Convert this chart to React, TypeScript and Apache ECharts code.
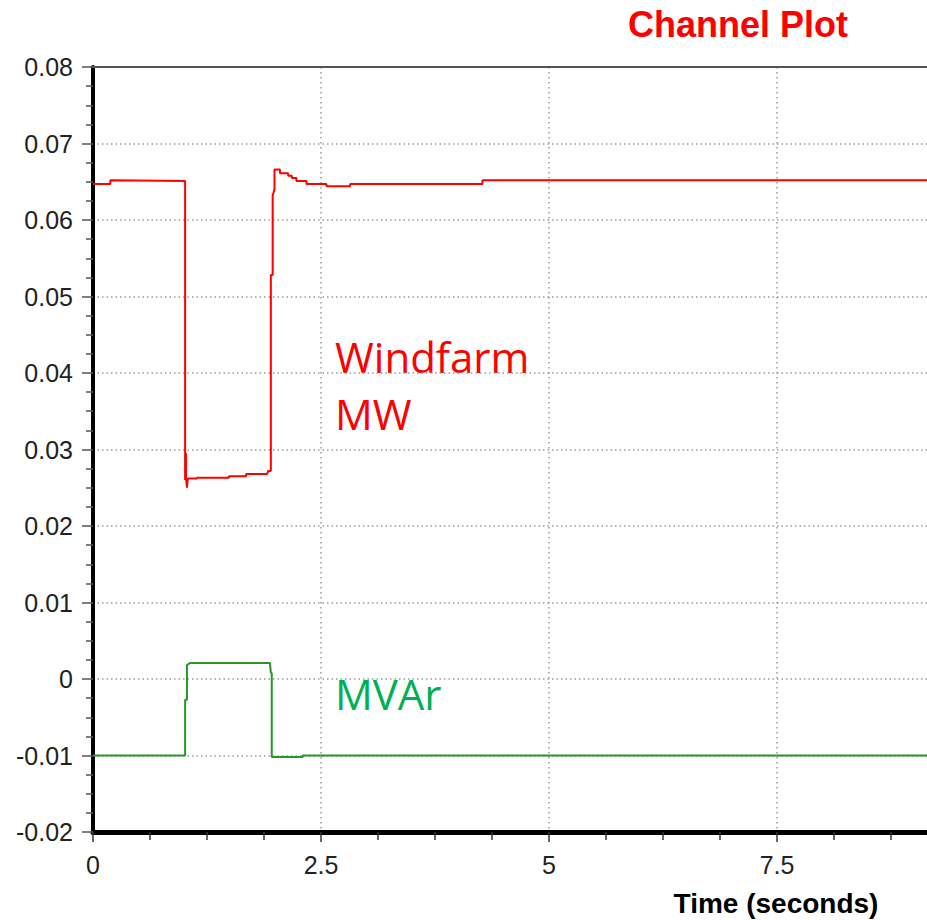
import React, { useEffect, useRef } from "react";
import * as echarts from "echarts";

const titleText = "Channel Plot";
const xAxisTitle = "Time (seconds)";
const yTicks = { min: -0.02, max: 0.08, interval: 0.01 };
const xTicks = { min: 0, max: 10, interval: 2.5 };

const timeMW = [0, 0.19, 0.19, 1.01, 1.01, 1.02, 1.02, 1.03, 1.04, 1.14, 1.14, 1.49, 1.49, 1.68, 1.68, 1.91, 1.92, 1.95, 1.95, 1.97, 1.97, 1.99, 1.99, 2.05, 2.05, 2.14, 2.14, 2.18, 2.18, 2.23, 2.23, 2.34, 2.34, 2.56, 2.56, 2.82, 2.82, 4.27, 4.27, 10];
const windfarmMW = [0.0647, 0.0647, 0.0652, 0.0651, 0.026, 0.0295, 0.0262, 0.025, 0.0262, 0.0262, 0.0263, 0.0263, 0.0265, 0.0265, 0.0268, 0.0268, 0.0272, 0.0272, 0.0528, 0.0528, 0.0632, 0.064, 0.0666, 0.0666, 0.0661, 0.0661, 0.0658, 0.0658, 0.0655, 0.0655, 0.0651, 0.0651, 0.0647, 0.0647, 0.0644, 0.0644, 0.0647, 0.0647, 0.0652, 0.0652];

const timeMVAr = [0, 1.01, 1.01, 1.03, 1.03, 1.06, 1.94, 1.95, 1.96, 1.96, 2.3, 2.3, 10];
const windfarmMVAr = [-0.01, -0.01, -0.0027, -0.0027, 0.0018, 0.0021, 0.0021, 0.0008, 0.0008, -0.0102, -0.0102, -0.01, -0.01];

const labelMW = ["Windfarm", "MW"];
const labelMVAr = "MVAr";

const tickFont = "'Liberation Sans', Arial, sans-serif";

export default function App() {
  const ref = useRef<HTMLDivElement>(null);
  useEffect(() => {
    if (!ref.current) return;
    const chart = echarts.init(ref.current, null, { renderer: "svg" });
    const zip = (xs: number[], ys: number[]) => xs.map((x, i) => [x, ys[i]]);
    chart.setOption({
      animation: false,
      backgroundColor: "#ffffff",
      grid: { left: 93, top: 67, bottom: 88, right: 5 },
      xAxis: [
        {
          type: "value",
          min: xTicks.min,
          max: xTicks.max,
          interval: xTicks.interval,
          axisLine: { show: true, onZero: false, lineStyle: { color: "#000", width: 5 } },
          axisTick: { show: true, inside: false, length: 10, lineStyle: { color: "#333", width: 1.5 } },
          minorTick: { show: true, splitNumber: 4, length: 8, lineStyle: { color: "#333", width: 1.5 } },
          axisLabel: {
            margin: 20,
            color: "#222",
            fontSize: 25,
            fontFamily: tickFont,
            showMaxLabel: false,
            formatter: (v: number) => String(v),
          },
          splitLine: { show: true, lineStyle: { color: "#9a9a9a", width: 1.5, type: [1.5, 3.5] } },
        },
        {
          type: "value",
          position: "top",
          min: xTicks.min,
          max: xTicks.max,
          axisLine: { show: true, onZero: false, lineStyle: { color: "#555", width: 2 } },
          axisTick: { show: false },
          axisLabel: { show: false },
          splitLine: { show: false },
        },
      ],
      yAxis: {
        type: "value",
        min: yTicks.min,
        max: yTicks.max,
        interval: yTicks.interval,
        axisLine: { show: true, onZero: false, lineStyle: { color: "#000", width: 4 } },
        axisTick: { show: true, inside: false, length: 11, lineStyle: { color: "#555", width: 1.5 } },
        minorTick: { show: true, splitNumber: 4, length: 7, lineStyle: { color: "#555", width: 1.5 } },
        axisLabel: {
          margin: 20,
          color: "#222",
          fontSize: 25,
          fontFamily: tickFont,
          formatter: (v: number) => String(Math.round(v * 1000) / 1000),
        },
        splitLine: { show: true, lineStyle: { color: "#9a9a9a", width: 1.5, type: [1.5, 3] } },
      },
      series: [
        {
          name: "Windfarm MW",
          type: "line",
          data: zip(timeMW, windfarmMW),
          showSymbol: false,
          lineStyle: { color: "#ff0000", width: 2 },
          itemStyle: { color: "#ff0000" },
        },
        {
          name: "MVAr",
          type: "line",
          data: zip(timeMVAr, windfarmMVAr),
          showSymbol: false,
          lineStyle: { color: "#2a962a", width: 2 },
          itemStyle: { color: "#2a962a" },
        },
      ],
      graphic: [
        {
          type: "text",
          x: 738,
          y: 24,
          style: {
            text: titleText,
            fill: "#ff0000",
            font: "bold 36px 'Liberation Sans', Arial, sans-serif",
            align: "center",
            verticalAlign: "middle",
          },
        },
        {
          type: "text",
          x: 776,
          y: 903,
          style: {
            text: xAxisTitle,
            fill: "#000",
            font: "bold 28px 'Liberation Sans', Arial, sans-serif",
            align: "center",
            verticalAlign: "middle",
          },
        },
        {
          type: "text",
          x: 335,
          y: 356,
          style: {
            text: labelMW[0],
            fill: "#ff0000",
            font: "42px 'Open Sans', 'Noto Sans', sans-serif",
            align: "left",
            verticalAlign: "middle",
          },
        },
        {
          type: "text",
          x: 335,
          y: 413,
          style: {
            text: labelMW[1],
            fill: "#ff0000",
            font: "42px 'Open Sans', 'Noto Sans', sans-serif",
            align: "left",
            verticalAlign: "middle",
          },
        },
        {
          type: "text",
          x: 335,
          y: 693,
          style: {
            text: labelMVAr,
            fill: "#00b050",
            font: "42px 'Open Sans', 'Noto Sans', sans-serif",
            align: "left",
            verticalAlign: "middle",
          },
        },
      ],
    });
    return () => chart.dispose();
  }, []);
  return (
    <div
      ref={ref}
      style={{ position: "fixed", left: 0, top: 0, width: 1010, height: 920, background: "#fff" }}
    />
  );
}
